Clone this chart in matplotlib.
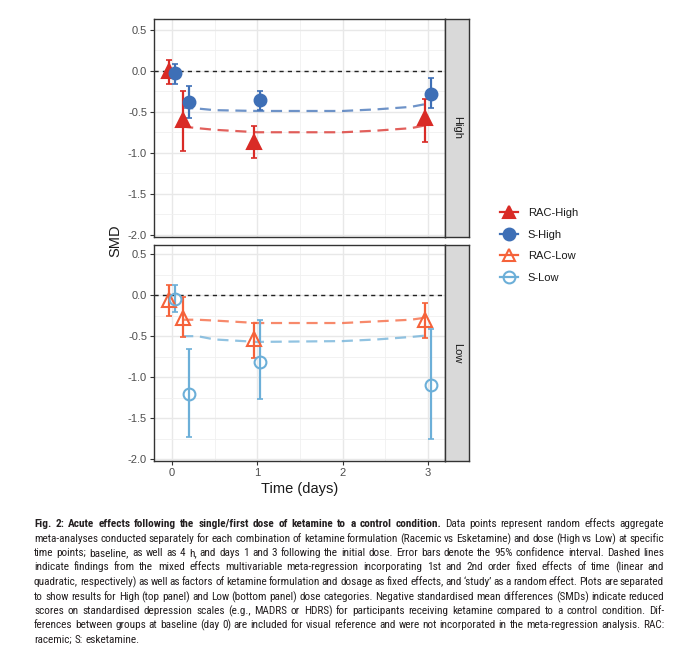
import matplotlib
matplotlib.use("Agg")
import matplotlib.pyplot as plt
from matplotlib.lines import Line2D
from matplotlib.ticker import MultipleLocator

plt.rcParams["font.family"] = ["Liberation Sans", "DejaVu Sans"]

# ---------------------------------------------------------------------
# data
time_points = [0.0, 1 / 6, 1.0, 3.0]
dodge = {"RAC": -0.035, "S": 0.035}

rac_high     = [0.00, -0.60, -0.87, -0.58]
rac_high_lo  = [-0.16, -0.975, -1.07, -0.87]
rac_high_hi  = [0.13, -0.245, -0.675, -0.34]
s_high       = [-0.03, -0.38, -0.36, -0.28]
s_high_lo    = [-0.16, -0.58, -0.48, -0.45]
s_high_hi    = [0.09, -0.18, -0.24, -0.09]

rac_low      = [-0.06, -0.28, -0.54, -0.30]
rac_low_lo   = [-0.25, -0.51, -0.76, -0.52]
rac_low_hi   = [0.12, -0.02, -0.34, -0.10]
s_low        = [-0.05, -1.20, -0.81, -1.09]
s_low_lo     = [-0.21, -1.73, -1.27, -1.75]
s_low_hi     = [0.12, -0.66, -0.30, -0.41]

# meta-regression fitted values
reg_time     = [0.12, 0.3, 0.5, 1.0, 2.0, 2.4, 2.8, 3.0]
reg_rac_high = [-0.68, -0.70, -0.72, -0.75, -0.75, -0.73, -0.70, -0.66]
reg_s_high   = [-0.45, -0.46, -0.48, -0.49, -0.49, -0.47, -0.44, -0.40]
reg_rac_low  = [-0.30, -0.30, -0.31, -0.34, -0.34, -0.32, -0.30, -0.27]
reg_s_low    = [-0.50, -0.50, -0.54, -0.57, -0.56, -0.54, -0.51, -0.49]

x_ticks  = [0, 1, 2, 3]
y_ticks  = [0.5, 0.0, -0.5, -1.0, -1.5, -2.0]
y_labels = ["0.5", "0.0", "-0.5", "-1.0", "-1.5", "-2.0"]

COL = {
    "RAC-High": "#d92b26",
    "S-High":   "#3e6fb6",
    "RAC-Low":  "#f5623a",
    "S-Low":    "#6cafd8",
}

caption_lines = [
    [("Fig. 2: Acute effects following the single/first dose of ketamine to a control condition.", "bold"),
     ("Data points represent random effects aggregate", "normal")],
    [("meta-analyses conducted separately for each combination of ketamine formulation (Racemic vs Esketamine) and dose (High vs Low) at specific", "normal")],
    [("time points; baseline, as well as 4 h, and days 1 and 3 following the initial dose. Error bars denote the 95% confidence interval. Dashed lines", "normal")],
    [("indicate findings from the mixed effects multivariable meta-regression incorporating 1st and 2nd order fixed effects of time (linear and", "normal")],
    [("quadratic, respectively) as well as factors of ketamine formulation and dosage as fixed effects, and \u2018study\u2019 as a random effect. Plots are separated", "normal")],
    [("to show results for High (top panel) and Low (bottom panel) dose categories. Negative standardised mean differences (SMDs) indicate reduced", "normal")],
    [("scores on standardised depression scales (e.g., MADRS or HDRS) for participants receiving ketamine compared to a control condition. Dif-", "normal")],
    [("ferences between groups at baseline (day 0) are included for visual reference and were not incorporated in the meta-regression analysis. RAC:", "normal")],
    [("racemic; S: esketamine.", "normal")],
]
CAP_FONT = ["Roboto Condensed", "Liberation Sans Narrow", "Roboto"]

W, H = 678, 655
fig = plt.figure(figsize=(W / 100, H / 100), dpi=100)


def px_axes(x0, y0, x1, y1):
    return fig.add_axes([x0 / W, 1 - y1 / H, (x1 - x0) / W, (y1 - y0) / H])


def style_panel(ax, show_x):
    ax.set_xlim(-0.21, 3.2)
    ax.set_xticks(x_ticks)
    ax.xaxis.set_minor_locator(MultipleLocator(0.5))
    ax.set_yticks(y_ticks)
    ax.set_yticklabels(y_labels)
    ax.yaxis.set_minor_locator(MultipleLocator(0.25))
    ax.grid(True, which="major", color="#e8e8e8", lw=1.0, zorder=0)
    ax.grid(True, which="minor", color="#f0f0f0", lw=0.6, zorder=0)
    ax.set_axisbelow(True)
    for s in ax.spines.values():
        s.set_color("#333333")
        s.set_linewidth(1.0)
    ax.tick_params(which="major", length=3, width=0.8, color="#333333",
                   labelsize=8, labelcolor="#4d4d4d", pad=2)
    ax.tick_params(which="minor", length=0)
    if not show_x:
        ax.tick_params(axis="x", which="major", labelbottom=False, length=0)
    ax.axhline(0, color="#222222", lw=1.0, ls=(0, (3, 3)), zorder=1)


def strip(x0, y0, x1, y1, label):
    s = px_axes(x0, y0, x1, y1)
    s.set_facecolor("#d9d9d9")
    s.set_xticks([])
    s.set_yticks([])
    for sp in s.spines.values():
        sp.set_color("#333333")
        sp.set_linewidth(1.0)
    s.text(0.5, 0.5, label, rotation=-90, ha="center", va="center",
           fontsize=8, color="#1a1a1a", transform=s.transAxes)


def series(ax, name, form, vals, lo, hi, marker, filled):
    c = COL[name]
    xs = [t + dodge[form] for t in time_points]
    yerr = [[v - l for v, l in zip(vals, lo)], [h - v for v, h in zip(vals, hi)]]
    ax.errorbar(xs, vals, yerr=yerr, fmt="none", ecolor=c, elinewidth=1.6,
                capsize=2, capthick=1.2, zorder=3)
    ax.plot(xs, vals, ls="none", marker=marker, ms=9.5 if marker == "^" else 8.5,
            mfc=c if filled else "none", mec=c, mew=1.5, zorder=4)


def reg_line(ax, name, vals):
    ax.plot(reg_time, vals, color=COL[name], lw=1.6, ls=(0, (5, 3)),
            alpha=0.75, zorder=2)


# ---- top panel (High)
ax1 = px_axes(154, 19, 445, 237)
ax1.set_ylim(-2.03, 0.634)
style_panel(ax1, show_x=False)
reg_line(ax1, "RAC-High", reg_rac_high)
reg_line(ax1, "S-High", reg_s_high)
series(ax1, "RAC-High", "RAC", rac_high, rac_high_lo, rac_high_hi, "^", True)
series(ax1, "S-High", "S", s_high, s_high_lo, s_high_hi, "o", True)
strip(445, 19, 469, 237, "High")

# ---- bottom panel (Low)
ax2 = px_axes(154, 245, 445, 461)
ax2.set_ylim(-2.02, 0.61)
style_panel(ax2, show_x=True)
reg_line(ax2, "RAC-Low", reg_rac_low)
reg_line(ax2, "S-Low", reg_s_low)
series(ax2, "RAC-Low", "RAC", rac_low, rac_low_lo, rac_low_hi, "^", False)
series(ax2, "S-Low", "S", s_low, s_low_lo, s_low_hi, "o", False)
strip(445, 245, 469, 461, "Low")

ax2.set_xlabel("Time (days)", fontsize=10.5, color="#1a1a1a", labelpad=3)
fig.text(115 / W, 1 - 241 / H, "SMD", rotation=90, ha="center", va="center",
         fontsize=10.5, color="#1a1a1a")

# ---- legend
handles = []
for name, m, filled in [("RAC-High", "^", True), ("S-High", "o", True),
                        ("RAC-Low", "^", False), ("S-Low", "o", False)]:
    c = COL[name]
    handles.append(Line2D([], [], color=c, lw=1.6, marker=m, ms=8.5,
                          mfc=c if filled else "none", mec=c, mew=1.5))
fig.legend(handles, list(COL.keys()), loc="upper left",
           bbox_to_anchor=(490 / W, 1 - 198 / H), frameon=False,
           fontsize=8, handlelength=1.6, handletextpad=0.9, labelspacing=1.05,
           labelcolor="#1a1a1a")

# ---- caption (justified, one text per word on a whole-pixel baseline)
cap_x0, cap_x1 = 34, 664
cap_y0, cap_dy = 527, 14.5
avail = cap_x1 - cap_x0
fig.canvas.draw()
renderer = fig.canvas.get_renderer()


def word_list(line):
    out = []
    for chunk, weight in line:
        for w in chunk.split(" "):
            out.append((w, weight))
    return out


def text_w(s, fs, weight="normal"):
    t = fig.text(0, 0, s, fontsize=fs, fontweight=weight, family=CAP_FONT)
    w = t.get_window_extent(renderer).width
    t.remove()
    return w


def measure(words, fs):
    # advance widths: bracket each word with "H" so side bearings count
    hh = {wt: text_w("HH", fs, wt) for wt in ("normal", "bold")}
    widths = [text_w("H" + w + "H", fs, wt) - hh[wt] for w, wt in words]
    sp_w = text_w("H H", fs) - hh["normal"]
    return widths, sp_w


cap_fs = 8.2
worst = 0
for line in caption_lines:
    ws, sp_w = measure(word_list(line), cap_fs)
    worst = max(worst, sum(ws) + sp_w * (len(ws) - 1) * 0.7)
if worst > avail:
    cap_fs = cap_fs * avail / worst * 0.995

for i, line in enumerate(caption_lines):
    words = word_list(line)
    ws, sp_w = measure(words, cap_fs)
    last = i == len(caption_lines) - 1
    gap = sp_w if last or len(ws) < 2 else (avail - sum(ws)) / (len(ws) - 1)
    x = cap_x0
    y = round(cap_y0 + i * cap_dy)
    for (w, weight), wd in zip(words, ws):
        fig.text(x, H - y, w, fontsize=cap_fs, fontweight=weight,
                 family=CAP_FONT, color="#231f20", va="baseline", ha="left",
                 transform=None)
        x += wd + gap

fig.savefig("out.png", dpi=100)
